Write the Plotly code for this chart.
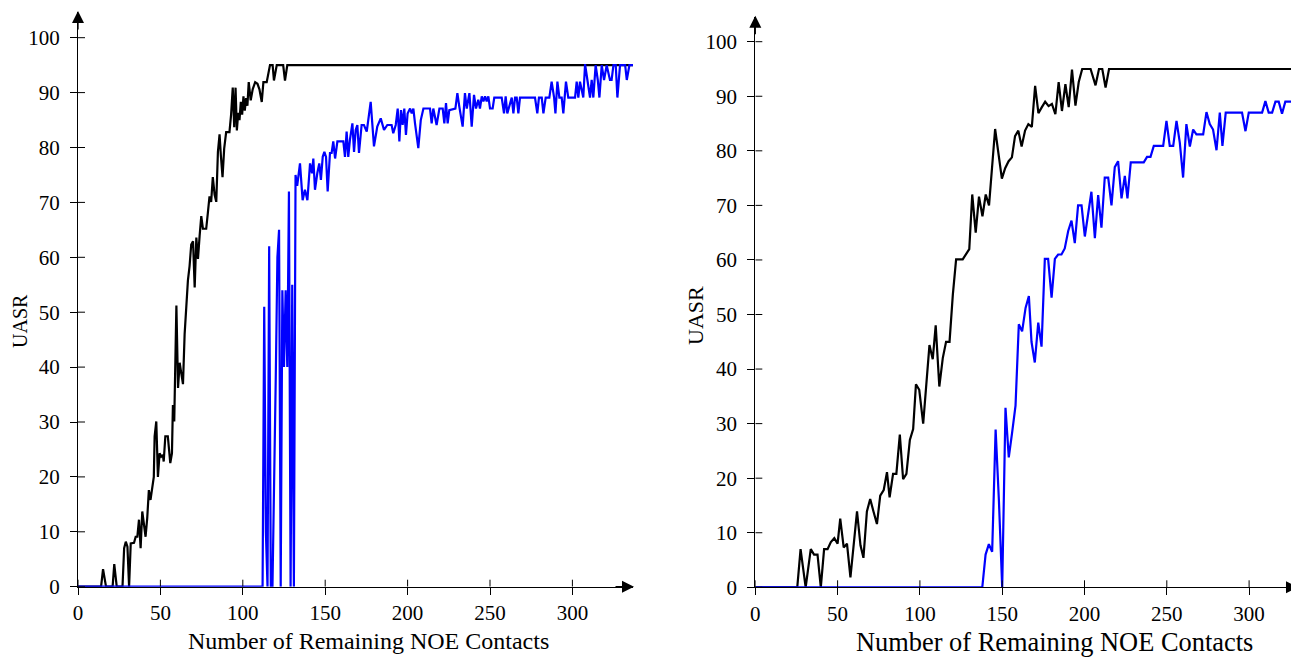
import plotly.graph_objects as go

# ---------------- data ----------------
left_black_x = [0, 14, 15.2, 17, 21, 22, 23.5, 27, 28, 29, 30, 31, 32, 34, 35, 36, 37, 38, 39, 40,
                41, 42, 43, 44, 45, 46, 46.5, 47.5, 48.5, 49.5, 50.5, 51.5, 52, 53, 54.5, 56, 57,
                57.6, 58.4, 59.7, 60.7, 61.7, 62.7, 63.7, 64.7, 65.7, 66.7, 67.7, 68.7, 69.8, 70.8,
                71.8, 72.8, 73.8, 74.8, 75.8, 77.8, 78.8, 79.8, 80.8, 81.8, 82.9, 83.9, 84.9, 85.9,
                86.7, 87.7, 88.7, 89.9, 91.9, 92.9, 93.9, 94.8, 95.6, 96.4, 97.2, 98, 98.8, 99.6,
                100.4, 101.2, 102, 102.8, 103.6, 104.8, 106, 107.5, 108.9, 110.1, 111.5, 112.5,
                114.5, 116.5, 118.1, 118.9, 120.6, 122.6, 124.5, 125.6, 127, 337]
left_black_y = [0, 0, 3.2, 0, 0, 4.1, 0, 0, 7, 8.2, 7.3, 0, 7.9, 8, 9.1, 9.1, 12.2, 7, 13.7, 11.6,
                9.1, 12.5, 17.6, 15.8, 17.9, 20, 27.4, 30.1, 20, 24.3, 23.7, 24, 22.8, 27.4, 27.4,
                22.5, 24.3, 33.1, 30.1, 51.2, 36.2, 40.8, 38.8, 36.9, 46, 51.9, 55.8, 58.4, 62.3,
                62.9, 54.5, 63.6, 59.7, 63.9, 67.5, 65.2, 65.2, 68.1, 71.1, 70.1, 74.6, 71.4, 70.1,
                79.2, 82.4, 78.5, 74.6, 79.8, 82.8, 82.8, 86, 90.9, 83.7, 90.9, 83.1, 86.3, 85,
                88.3, 86, 89.3, 86.7, 89, 87.6, 91.9, 88.6, 90.6, 91.9, 91.6, 90.6, 88.3, 91.9,
                91.9, 95, 95, 92.2, 95, 95, 95, 92.2, 95, 95]

left_blue_x = [0, 112, 113, 114, 115, 116, 117, 118, 120, 121, 122, 123, 124, 125, 126, 127, 128,
               129, 130, 131, 132, 133, 134.7, 136.3, 137.7, 139.2, 140.8, 142, 142.8, 143.8,
               145.2, 146.4, 147.4, 148.5, 149.5, 150.5, 151.5, 152.9, 153.9, 154.9, 156, 157.4,
               161, 162, 163, 164, 165, 166.5, 167.5, 168.5, 169.5, 170.5, 172.1, 173.5, 175.2,
               177.6, 179.6, 181.6, 183.7, 185.7, 187.7, 190.3, 191.3, 192.8, 194, 195, 196, 197,
               198, 199, 200, 201.5, 202.5, 203.5, 204.5, 206.5, 208, 209.6, 213.6, 214.6, 215.6,
               217.6, 219.3, 221.3, 222.3, 223.3, 224.3, 225.3, 229, 230.2, 231.4, 233.4, 234.8,
               235.9, 237.5, 238.9, 240.3, 241.5, 242.9, 243.9, 245, 246, 247, 248, 249, 250,
               251.6, 252.6, 257.1, 258.5, 259.5, 260.5, 263.2, 264.2, 265.2, 266.2, 267.2, 268.2,
               277.3, 278.7, 279.7, 281.4, 282.4, 283.8, 286, 287.4, 288.9, 289.7, 290.9, 292.1,
               293.5, 294.5, 296.1, 297.5, 301.6, 302.6, 303.6, 304.6, 306.6, 307.7, 309.1, 310.7,
               311.7, 312.7, 314.1, 315.4, 316.4, 317.8, 319.2, 320.8, 322.8, 323.8, 324.9, 326.3,
               327.3, 328.9, 332, 333, 334.6, 337]
left_blue_y = [0, 0, 51, 10, 0, 62, 0, 0, 38, 60, 65, 0, 54, 40, 54, 40, 72, 0, 55, 0, 75, 73,
               77.1, 70.4, 72.3, 70.4, 77.1, 75.3, 78, 72.3, 75.3, 77.1, 74.1, 78.3, 79.2, 78.3,
               72, 79, 79, 81.1, 78, 81.1, 81.1, 78.3, 82.9, 78.3, 81.4, 84.4, 79.2, 83.2, 84.1,
               79, 84.1, 84.1, 82.9, 88.3, 80.2, 83.8, 85.3, 83.2, 84.1, 84.1, 82.6, 84.1, 87.1,
               81.1, 86.8, 84.1, 87.1, 82.3, 86.2, 87.1, 86.2, 87.1, 84.4, 79.9, 85, 87.1, 87.1,
               84.4, 87.1, 84.1, 87.1, 87.1, 84.4, 88.1, 84.4, 86.8, 87.1, 89.9, 87.4, 83.8, 89.9,
               87.1, 89.9, 83.8, 89.6, 87.1, 88.7, 87.1, 89.3, 88.4, 89.3, 88.4, 89.3, 87.1, 87.1,
               89.1, 89.1, 86.2, 89.3, 86.2, 89.1, 86.2, 89.1, 89.1, 86.2, 89.1, 89.1, 86.2, 89.1,
               89.1, 86.2, 89.1, 89.1, 92, 89.1, 86.2, 92, 89.1, 89.1, 86.2, 92, 89.1, 89.1, 92,
               89.1, 92, 89.1, 95.2, 92.3, 89.1, 92.3, 89.1, 95, 92.3, 89.1, 95, 92.3, 95, 92.3,
               92.3, 95, 95, 89.1, 95, 95, 92.3, 95, 95]

right_black_x = [0, 25.5, 27.5, 30.6, 33.7, 35.7, 37.8, 39.8, 41.8, 43.9, 45.9, 48, 50, 51.6, 53.7,
                 55.7, 57.8, 61.8, 63.9, 65.7, 67.8, 69.8, 71.8, 73.9, 75.9, 78, 80, 81.6, 83.7,
                 85.7, 87.8, 89.8, 91.8, 93.9, 95.9, 97.6, 99.6, 102, 105.8, 107.8, 109.6, 111.8,
                 113.9, 115.9, 118, 120, 122, 126, 130, 131.8, 133.9, 135.9, 138, 140, 142, 145.7,
                 149.8, 151.8, 153.9, 155.9, 157.8, 159.8, 161.8, 163.9, 165.9, 168, 170, 172,
                 174.1, 176.1, 178.2, 180.2, 182.3, 184.3, 186.3, 188.4, 190.4, 192.4, 194.5,
                 196.5, 198.6, 203.7, 206.7, 208.8, 210.8, 212.8, 214.9, 338]
right_black_y = [0, 0, 7, 0, 7, 6, 6, 0, 7, 7, 8.3, 9, 8, 12.6, 7.3, 8, 1.8, 13.9, 7.7, 5.4, 13.9,
                 16.2, 13.9, 11.6, 16.8, 17.8, 21.1, 16.5, 20.8, 20.8, 28, 19.8, 20.8, 27, 29, 37.2,
                 36.2, 30, 44.4, 41.8, 48, 36.8, 42, 45, 45, 53.6, 60.1, 60.1, 62, 72, 65, 71.6, 68,
                 72, 70, 84, 74.9, 76.8, 78.1, 78.8, 82.7, 83.7, 80.8, 83.7, 84.9, 84.4, 91.9,
                 86.9, 88, 89, 88.2, 88.6, 86.7, 92.6, 87.3, 92.2, 88, 94.9, 88.3, 92.6, 95, 95,
                 92, 95, 95, 91.6, 95, 95]

right_blue_x = [0, 137.9, 139.9, 141.9, 143.9, 146, 148, 150, 152, 154, 156, 158.1, 160.1, 162.1,
                164.2, 166.2, 167.8, 169.8, 171.9, 173.9, 175.9, 177.9, 180, 182, 184, 186, 188,
                190.1, 192.1, 194.1, 196.1, 198.2, 200.2, 202.2, 204.2, 206.3, 208.3, 210.3,
                212.3, 214.4, 216.4, 218.4, 220.4, 222.5, 224.5, 226.1, 228.1, 236, 238, 240.1,
                242.1, 247.8, 249.8, 251.8, 253.9, 255.9, 257.9, 259.9, 261.9, 264, 266, 268,
                272.1, 274.1, 276.1, 278.1, 280.2, 282.2, 283.8, 285.8, 295.7, 297.8, 299.8,
                307.9, 309.9, 311.9, 314, 316, 318, 320, 322, 338]
right_blue_y = [0, 0, 6, 7.9, 6.5, 28.9, 15.9, 0, 32.9, 23.8, 28.3, 33.3, 48.2, 46.9, 51.2, 53.4,
                45, 41.2, 48.5, 44.1, 60.2, 60.2, 53.1, 60.2, 61, 61, 62.1, 65.3, 67.2, 63.1, 70,
                70, 64.3, 68.1, 72.5, 64, 71.9, 65.9, 75.1, 75.1, 70, 77, 78.1, 71.3, 75.4, 71.3,
                77.9, 77.9, 78.9, 78.9, 80.9, 80.9, 85.5, 80.9, 80.9, 85.5, 81.5, 75.1, 84.9,
                80.8, 83.9, 83, 83, 87.1, 84.9, 83.9, 80.1, 87, 80.9, 87, 87, 83.6, 87, 87, 89.1,
                87, 87, 89, 89, 86.8, 89, 89]

x_ticks = [0, 50, 100, 150, 200, 250, 300]
y_ticks = [0, 10, 20, 30, 40, 50, 60, 70, 80, 90, 100]
x_title = "Number of Remaining NOE Contacts"
y_title = "UASR"

# ---------------- layout geometry (pixels of the 1299x657 window) ----------------
VW, VH = 1299, 657
OFF = 8                      # page body margin
W, H = VW - OFF, VH - OFF    # figure size so that it fits inside the window
FONT = "Liberation Serif"

def fx(px):
    return (px - OFF) / W

def fy(py):
    return 1 - (py - OFF) / H

# left panel
L_x0, L_xtip, L_sx = 78.0, 633.0, 1.648
L_y0, L_ytip, L_sy = 586.7, 12.0, 5.49
# right panel
R_x0, R_xend, R_sx = 755.3, 1299.0, 1.646
R_y0, R_ytip, R_sy = 587.3, 16.7, 5.456

fig = go.Figure()
line_w = 2.2
fig.add_trace(go.Scatter(x=left_black_x, y=left_black_y, mode="lines",
                         line=dict(color="#000000", width=line_w), xaxis="x", yaxis="y"))
fig.add_trace(go.Scatter(x=left_blue_x, y=left_blue_y, mode="lines",
                         line=dict(color="#0000ff", width=line_w), xaxis="x", yaxis="y"))
fig.add_trace(go.Scatter(x=right_black_x, y=right_black_y, mode="lines",
                         line=dict(color="#000000", width=line_w), xaxis="x2", yaxis="y2"))
fig.add_trace(go.Scatter(x=right_blue_x, y=right_blue_y, mode="lines",
                         line=dict(color="#0000ff", width=line_w), xaxis="x2", yaxis="y2"))

tickfont = dict(family=FONT, size=21, color="#000")
common = dict(showgrid=False, zeroline=False, showline=True, linecolor="#000", linewidth=1.3,
              ticks="outside", ticklen=7, tickwidth=1, tickcolor="#000", tickfont=tickfont,
              fixedrange=True, automargin=False)

fig.update_layout(
    template="none",
    font=dict(family=FONT, size=20, color="#000"),
    width=W, height=H, margin=dict(l=0, r=0, t=0, b=0, pad=0), autosize=False,
    paper_bgcolor="white", plot_bgcolor="white", showlegend=False,
    xaxis=dict(domain=[fx(L_x0), fx(L_xtip)], range=[0, (L_xtip - L_x0) / L_sx],
               tickvals=x_ticks, anchor="y", ticklabelstandoff=0, **common),
    yaxis=dict(domain=[fy(L_y0), fy(L_ytip)], range=[0, (L_y0 - L_ytip) / L_sy],
               tickvals=y_ticks, anchor="x", ticklabelstandoff=6, **common),
    xaxis2=dict(domain=[fx(R_x0), fx(R_xend)], range=[0, (R_xend - R_x0) / R_sx],
                tickvals=x_ticks, anchor="y2", ticklabelstandoff=0, **common),
    yaxis2=dict(domain=[fy(R_y0), fy(R_ytip)], range=[0, (R_y0 - R_ytip) / R_sy],
                tickvals=y_ticks, anchor="x2", ticklabelstandoff=6, **common),
)

# inner halves of the crossing tick marks
shapes = []
for xr, yr in (("x", "y"), ("x2", "y2")):
    for t in x_ticks:
        shapes.append(dict(type="line", xref=xr, yref=yr, x0=t, x1=t, ysizemode="pixel",
                           yanchor=0, y0=0, y1=7, line=dict(color="#000", width=1)))
    for t in y_ticks:
        shapes.append(dict(type="line", xref=xr, yref=yr, y0=t, y1=t, xsizemode="pixel",
                           xanchor=0, x0=0, x1=7, line=dict(color="#000", width=1)))
fig.update_layout(shapes=shapes)

# filled arrow heads at axis ends
arrow = dict(text="", showarrow=True, arrowhead=2, arrowsize=1.85, arrowwidth=1.3,
             arrowcolor="#000", xref="paper", yref="paper", standoff=0)
annotations = [
    dict(x=fx(L_xtip + 1), y=fy(L_y0), ax=-20, ay=0, **arrow),
    dict(x=fx(L_x0), y=fy(L_ytip - 1), ax=0, ay=20, **arrow),
    dict(x=fx(R_xend + 10), y=fy(R_y0), ax=-20, ay=0, **arrow),
    dict(x=fx(R_x0), y=fy(R_ytip - 1), ax=0, ay=20, **arrow),
]
# axis titles
annotations += [
    dict(text=x_title, x=fx(368), y=fy(641), xref="paper", yref="paper", showarrow=False,
         xanchor="center", yanchor="middle", font=dict(family=FONT, size=24, color="#000")),
    dict(text=x_title, x=fx(1054), y=fy(642), xref="paper", yref="paper", showarrow=False,
         xanchor="center", yanchor="middle", font=dict(family=FONT, size=26.4, color="#000")),
    dict(text=y_title, x=fx(20), y=fy(321), xref="paper", yref="paper", showarrow=False,
         textangle=-90, xanchor="center", yanchor="middle",
         font=dict(family=FONT, size=20, color="#000")),
    dict(text=y_title, x=fx(695), y=fy(316), xref="paper", yref="paper", showarrow=False,
         textangle=-90, xanchor="center", yanchor="middle",
         font=dict(family=FONT, size=22, color="#000")),
]
fig.update_layout(annotations=annotations)

fig.write_html("out.html")
